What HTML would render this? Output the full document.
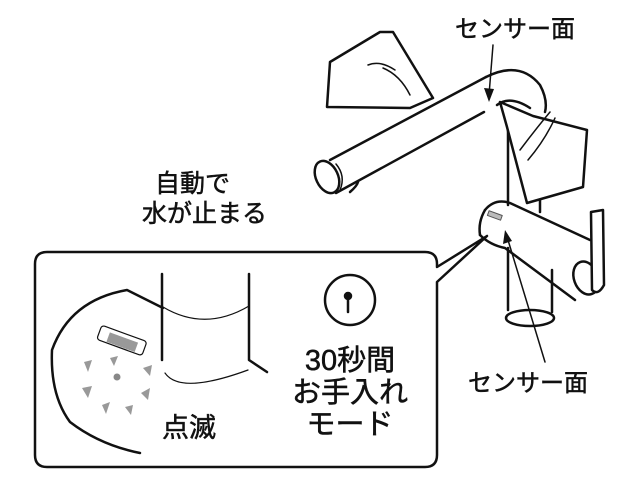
<!DOCTYPE html>
<html><head><meta charset="utf-8"><style>
html,body{margin:0;padding:0;background:#fff;}
svg{display:block;}
text{font-family:"Liberation Sans","Noto Sans CJK JP",sans-serif;fill:#111;stroke:#111;stroke-width:0.5;}
</style></head><body>
<svg width="640" height="478" viewBox="0 0 640 478" xmlns="http://www.w3.org/2000/svg">
<g fill="none" stroke="#111" stroke-width="2.5" stroke-linejoin="round" stroke-linecap="round">
<!-- spout -->
<path d="M330 160 L486 77"/>
<path d="M336 193 L484 112"/>
<ellipse cx="327" cy="177" rx="11" ry="17" transform="rotate(-25 327 177)" fill="#fff"/>
<path d="M336 164 Q346 176 340 190" stroke-width="1.5"/>
<path d="M350 192 Q357 186 358 182" />
<!-- arch -->
<path d="M486 77 Q520 60 540 85 Q548 100 545 112"/>
<path d="M497 105 Q510 95 530 108"/>
<!-- body column -->
<path d="M508 130 L508 205"/>
<path d="M540 130 L540 212"/>
<!-- base body -->
<path d="M485 210 Q495 198 510 203 L590 240"/>
<path d="M480 235 Q478 222 485 210"/>
<path d="M480 235 Q490 245 505 248 L575 300"/>
<ellipse cx="586" cy="278" rx="12" ry="17" transform="rotate(-20 586 278)"/>
<path d="M591 212 L603 210 L604 285 Q598 296 592 290 Z" fill="#fff"/>
<path d="M508 248 L508 310"/>
<path d="M552 270 L552 312"/>
<ellipse cx="530" cy="318" rx="24" ry="8"/>
<rect x="488" y="213" width="14" height="5" fill="#bbb" stroke="#555" stroke-width="1" transform="rotate(20 495 215)"/>
<!-- hands -->
<path d="M330 62 L380 32 L393 32 L433 98 L410 108 L327 107 Z" fill="#fff"/>
<path d="M383 68 Q400 75 410 95" stroke-width="1.5"/>
<path d="M368 65 Q380 60 395 70" stroke-width="1.5"/>
<path d="M507 127 L500 102 L533 116 L587 130 L583 187 L527 203 Z" fill="#fff"/>
<path d="M520 150 Q535 130 550 112" stroke-width="1.5"/>
<path d="M528 160 Q545 140 555 118" stroke-width="1.5"/>
<!-- callout -->
<path d="M437 282 L437 455 Q437 467 425 467 L47 467 Q35 467 35 455 L35 264 Q35 252 47 252 L425 252 Q437 252 437 264 L437 267 L487 236 L437 282 Z" fill="#fff"/>
<!-- inner drawing -->
<path d="M162 274 L162 360"/>
<path d="M249 274 L249 360 L267 372"/>
<path d="M163 307 Q205 332 249 306" stroke-width="1.2"/>
<path d="M165 373 Q180 395 248 370" stroke-width="1.2"/>
<path d="M163 308 L127 290 Q70 300 52 350 Q50 395 70 422 Q100 445 140 453"/>
<rect x="98" y="333" width="48" height="15" rx="3" stroke-width="1.2" transform="rotate(20 122 340)"/>
<circle cx="350" cy="300" r="25"/>
<circle cx="348" cy="296" r="3" fill="#111"/>
<path d="M348 298 L348 312"/>
<!-- arrows -->
<path d="M493 45 L489 95" stroke-width="1.5"/>
<path d="M545 362 L508 240" stroke-width="1.5"/>
</g>
<polygon points="489,102 484,88 494,89" fill="#111"/>
<polygon points="505,230 503,244 512,241" fill="#111"/>
<g fill="#999">
<rect x="108" y="337" width="30" height="10" transform="rotate(20 122 340)"/>
<circle cx="117" cy="377" r="3.5" fill="#888"/>
<polygon points="84,362 92,360 88,372"/><polygon points="82,388 92,386 88,398"/>
<polygon points="102,405 110,402 106,414"/><polygon points="125,407 133,405 131,415"/>
<polygon points="141,393 150,388 148,400"/><polygon points="143,368 152,365 150,376"/>
<polygon points="110,358 118,356 114,366"/>
</g>
<text x="455" y="37" font-size="24">センサー面</text>
<text x="155" y="192" font-size="25">自動で</text>
<text x="142" y="222" font-size="25">水が止まる</text>
<text x="468" y="391" font-size="24">センサー面</text>
<text x="162" y="437" font-size="27">点滅</text>
<text x="350" y="370" font-size="29" text-anchor="middle">30秒間</text>
<text x="350" y="402" font-size="29" text-anchor="middle">お手入れ</text>
<text x="350" y="434" font-size="29" text-anchor="middle">モード</text>
</svg>
</body></html>
